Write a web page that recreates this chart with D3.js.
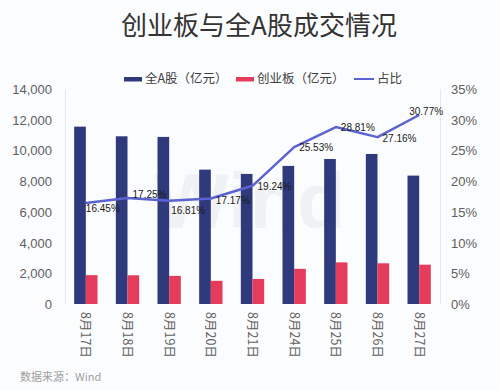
<!DOCTYPE html>
<html>
<head>
<meta charset="utf-8">
<script src="https://cdn.jsdelivr.net/npm/d3@7"></script>
<style>
  body { margin: 0; background: #fbfcfd; }
  svg { display: block; }
  text { font-family: "Liberation Sans", Arial, "Noto Sans CJK SC", sans-serif; }
  .cjk { font-family: "Noto Sans CJK SC", sans-serif; }
</style>
</head>
<body>
<div id="chart"></div>
<script>
// data
const dates = ["8月17日", "8月18日", "8月19日", "8月20日", "8月21日", "8月24日", "8月25日", "8月26日", "8月27日"];
const allA = [11550, 10920, 10880, 8750, 8470, 8990, 9440, 9770, 8360];   // 全A股（亿元）
const gem = [1880, 1870, 1830, 1510, 1630, 2290, 2710, 2650, 2560];       // 创业板（亿元）
const ratio = [16.45, 17.25, 16.81, 17.17, 19.24, 25.53, 28.81, 27.16, 30.77]; // 占比 %
const leftTicks = [0, 2000, 4000, 6000, 8000, 10000, 12000, 14000];
const rightTicks = [0, 5, 10, 15, 20, 25, 30, 35];
const seriesNames = ["全A股（亿元）", "创业板（亿元）", "占比"];

// label nudges for the ratio labels (dx, dy), just layout
const labelNudge = [[17, 6], [22, -4], [19, 10], [22, 2], [22, 1], [22, 0], [22, 0], [22, 1], [7, -3]];

const width = 500, height = 391;
const colors = { a: "#2e3a7c", g: "#e53c5c", line: "#5b63d0" };
const plotTop = 89, plotBottom = 304, plotLeft = 65, plotRight = 440;

const svg = d3.select("#chart").append("svg")
  .attr("width", width)
  .attr("height", height);

svg.append("rect").attr("width", width).attr("height", height).attr("fill", "#fbfcfd");

// watermark
svg.append("text")
  .attr("x", 250).attr("y", 228)
  .attr("text-anchor", "middle")
  .style("font-size", "78px").style("font-weight", "bold")
  .attr("fill", "#000").attr("opacity", 0.04)
  .text("Wind");

const x = d3.scaleBand().domain(dates).range([plotLeft, plotRight]).paddingInner(0.44).paddingOuter(0.22);
const x1 = d3.scaleBand().domain([0, 1]).range([0, x.bandwidth()]);
const yL = d3.scaleLinear().domain([0, 14000]).range([plotBottom, plotTop]);
const yR = d3.scaleLinear().domain([0, 35]).range([plotBottom, plotTop]);

// axis lines
svg.append("line").attr("x1", plotLeft + 0.5).attr("x2", plotLeft + 0.5).attr("y1", plotTop).attr("y2", plotBottom)
  .attr("stroke", "#e6e8ec");
svg.append("line").attr("x1", plotRight + 0.5).attr("x2", plotRight + 0.5).attr("y1", plotTop).attr("y2", plotBottom)
  .attr("stroke", "#e6e8ec");

// left axis
const axL = svg.append("g").attr("transform", `translate(${plotLeft - 13},0)`)
  .call(d3.axisLeft(yL).tickValues(leftTicks).tickSize(0).tickPadding(0).tickFormat(d3.format(",")));
axL.select(".domain").remove();
axL.selectAll("text").style("font-size", "13px").attr("fill", "#606060").attr("dy", "0.35em");

// right axis
const axR = svg.append("g").attr("transform", `translate(${plotRight + 11},0)`)
  .call(d3.axisRight(yR).tickValues(rightTicks).tickSize(0).tickPadding(0).tickFormat(d => d + "%"));
axR.select(".domain").remove();
axR.selectAll("text").style("font-size", "13px").attr("fill", "#606060").attr("dy", "0.35em");

// x labels (rotated)
svg.append("g").selectAll("text").data(dates).enter().append("text")
  .attr("class", "cjk")
  .attr("transform", d => `translate(${x(d) + x.bandwidth() / 2},${plotBottom + 8}) rotate(90)`)
  .attr("dy", "0.35em")
  .style("font-size", "12.5px")
  .attr("fill", "#606060")
  .text(d => d);

// bars
const bars = svg.append("g");
bars.selectAll(".barA").data(allA).enter().append("rect")
  .attr("class", "barA")
  .attr("x", (d, i) => x(dates[i]) + x1(0))
  .attr("width", x1.bandwidth())
  .attr("y", d => yL(d))
  .attr("height", d => yL(0) - yL(d))
  .attr("fill", colors.a);
bars.selectAll(".barG").data(gem).enter().append("rect")
  .attr("class", "barG")
  .attr("x", (d, i) => x(dates[i]) + x1(1))
  .attr("width", x1.bandwidth())
  .attr("y", d => yL(d))
  .attr("height", d => yL(0) - yL(d))
  .attr("fill", colors.g);

// ratio line
const cx = (d, i) => x(dates[i]) + x.bandwidth() / 2;
const line = d3.line().x(cx).y(d => yR(d));
svg.append("path").datum(ratio)
  .attr("d", line)
  .attr("fill", "none")
  .attr("stroke", colors.line)
  .attr("stroke-width", 2.5)
  .attr("stroke-linejoin", "round");

svg.append("g").selectAll("text").data(ratio).enter().append("text")
  .attr("x", (d, i) => cx(d, i) + labelNudge[i][0])
  .attr("y", (d, i) => yR(d) + labelNudge[i][1])
  .attr("text-anchor", "middle")
  .attr("dy", "0.35em")
  .style("font-size", "10px")
  .attr("fill", "#1a1a1a")
  .text(d => d.toFixed(2) + "%");

// title
svg.append("text")
  .attr("class", "cjk")
  .attr("x", 259).attr("y", 35)
  .attr("text-anchor", "middle")
  .style("font-size", "26px")
  .attr("fill", "#333")
  .text("创业板与全A股成交情况");

// legend
const legendX = [124, 236, 354];
const lg = svg.append("g").selectAll("g").data(seriesNames).enter().append("g")
  .attr("transform", (d, i) => `translate(${legendX[i]},79)`);
lg.append("rect")
  .attr("x", 0).attr("y", (d, i) => i < 2 ? -2 : -1)
  .attr("width", (d, i) => i < 2 ? 18 : 20)
  .attr("height", (d, i) => i < 2 ? 4.5 : 2)
  .attr("fill", (d, i) => [colors.a, colors.g, colors.line][i]);
lg.append("text")
  .attr("class", "cjk")
  .attr("x", (d, i) => i < 2 ? 21 : 23)
  .attr("dy", "0.35em")
  .style("font-size", "12.5px")
  .attr("fill", "#404040")
  .text(d => d);

// source
svg.append("text")
  .attr("class", "cjk")
  .attr("x", 20).attr("y", 381)
  .style("font-size", "11px")
  .attr("fill", "#a0a0a0")
  .text("数据来源：Wind");
</script>
</body>
</html>
